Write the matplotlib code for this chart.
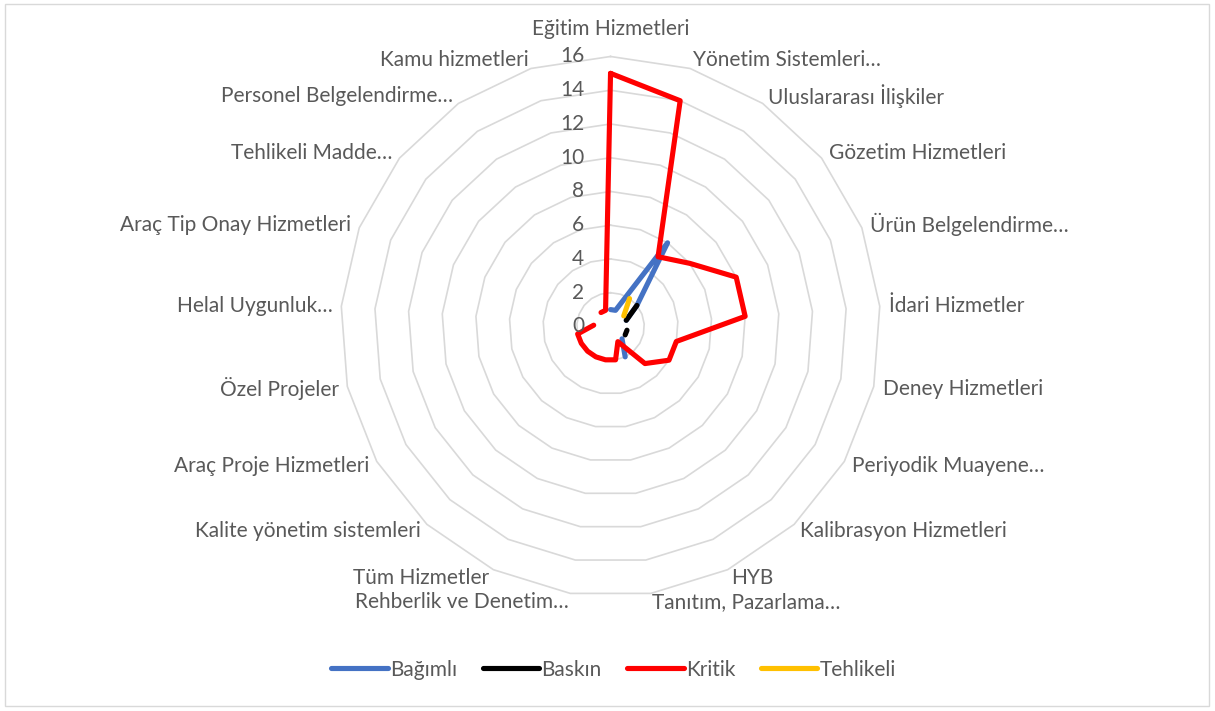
import numpy as np
import matplotlib
matplotlib.use("Agg")
import matplotlib.pyplot as plt

nan = np.nan

categories = [
    "Eğitim Hizmetleri", "Yönetim Sistemleri…", "Uluslararası İlişkiler",
    "Gözetim Hizmetleri", "Ürün Belgelendirme…", "İdari Hizmetler",
    "Deney Hizmetleri", "Periyodik Muayene…", "Kalibrasyon Hizmetleri",
    "HYB", "Tanıtım, Pazarlama…", "Rehberlik ve Denetim…", "Tüm Hizmetler",
    "Kalite yönetim sistemleri", "Araç Proje Hizmetleri", "Özel Projeler",
    "Helal Uygunluk…", "Araç Tip Onay Hizmetleri", "Tehlikeli Madde…",
    "Personel Belgelendirme…", "Kamu hizmetleri",
]

bagimli = [1, 1, 6, 2, 1, nan, nan, nan, 1, 2, nan, nan, nan, nan, nan, nan, nan, nan, nan, nan, nan]
baskin = [nan, nan, nan, 2, 1, nan, 1, 1, nan, nan, nan, nan, nan, nan, nan, nan, nan, nan, nan, nan, nan]
kritik = [15, 14, 5, 6, 8, 8, 4, 4, 3, 1, 2, 2, 2, 2, 2, 2, 1, nan, nan, 1, 1]
tehlikeli = [nan, nan, 2, 1, nan, nan, nan, nan, nan, nan, nan, nan, nan, nan, nan, nan, nan, nan, nan, nan, nan]

series_names = ["Bağımlı", "Baskın", "Kritik", "Tehlikeli"]
series_colors = ["#4472C4", "#000000", "#FF0000", "#FFC000"]
r_ticks = [0, 2, 4, 6, 8, 10, 12, 14, 16]

plt.rcParams["font.family"] = ["Lato", "DejaVu Sans"]
TXT = "#595959"
FS = 15

fig = plt.figure(figsize=(12.15, 7.11), dpi=100)
fig.patches.append(plt.Rectangle((0.004, 0.007), 0.991, 0.987, transform=fig.transFigure,
                                 fill=False, edgecolor="#d9d9d9", lw=1))

ax = fig.add_axes([0.2803, 0.1611, 0.4444, 0.7595], projection="polar")
ax.set_theta_zero_location("N")
ax.set_theta_direction(-1)
ax.set_ylim(0, 16)
ax.grid(False)
ax.spines["polar"].set_visible(False)
ax.set_xticks([])
ax.set_yticks([])
ax.patch.set_alpha(0)

n = len(categories)
theta = np.arange(n) * 2 * np.pi / n
theta_c = np.append(theta, theta[0])

# polygon gridlines like Excel
for r in r_ticks[1:]:
    ax.plot(theta_c, [r] * (n + 1), color="#d9d9d9", lw=1.2, zorder=1, clip_on=False)

handles = []
for vals, name, col in zip([bagimli, baskin, kritik, tehlikeli], series_names, series_colors):
    v = np.append(vals, vals[0])
    ln, = ax.plot(theta_c, v, color=col, lw=3.7, label=name, zorder=3,
                  solid_capstyle="round", solid_joinstyle="round", clip_on=False)
    handles.append(ln)

for r in r_ticks:
    ax.annotate(str(r), xy=(0, r), xytext=(-19, 0), textcoords="offset points",
                ha="right", va="center", fontsize=FS, color=TXT)

for t, lab in zip(theta, categories):
    s, c = np.sin(t), np.cos(t)
    if abs(s) < 0.05:
        ha, va, off = "center", "bottom", 12.5
    else:
        ha = "left" if s > 0 else "right"
        va, off = "center", 6.5
    ax.annotate(lab, xy=(t, 16), xytext=(off * s, off * c), textcoords="offset points",
                ha=ha, va=va, fontsize=FS, color=TXT, annotation_clip=False)

fig.legend(handles, series_names, loc="center", bbox_to_anchor=(0.505, 0.058), ncol=4,
           frameon=False, fontsize=FS, labelcolor=TXT, handlelength=2.7,
           handletextpad=0.1, columnspacing=1.25)

fig.savefig("out.png", dpi=100)
